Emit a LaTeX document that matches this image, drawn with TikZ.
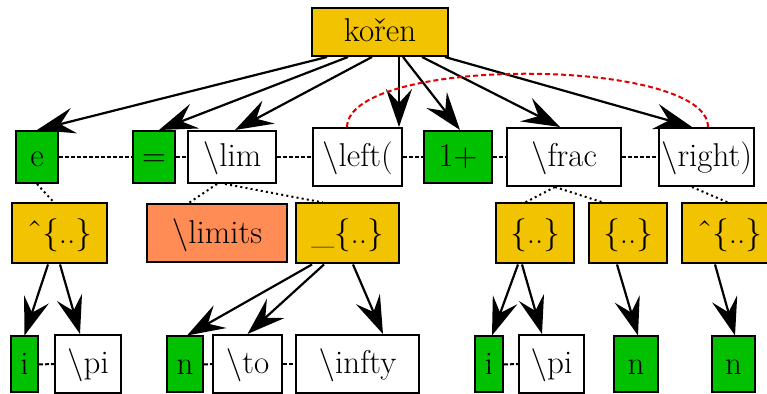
\documentclass[tikz,border=0pt]{standalone}
\usetikzlibrary{arrows.meta,calc}
\definecolor{gold}{HTML}{F2C300}
\definecolor{leaf}{HTML}{00C000}
\definecolor{salmon}{HTML}{FF8C55}
\definecolor{tiered}{HTML}{E00000}

\begin{document}
\begin{tikzpicture}[x=0.5pt,y=-0.5pt,
  box/.style={draw, line width=1pt, inner sep=0pt, text height=10pt, text depth=0pt,
              font=\fontsize{16.5}{20}\selectfont},
  arr/.style={-{Stealth[length=19pt,width=13pt,inset=7pt]}, line width=1.1pt},
  sib/.style={dash pattern=on 2pt off 1pt, line width=1pt},
  tree/.style={dash pattern=on 1pt off 1.6pt, line width=1pt},
  pair/.style={dash pattern=on 2.5pt off 1.5pt, line width=1pt, draw=tiered}]
\useasboundingbox (0,0) rectangle (767,394);

% root
\node[box, fill=gold, minimum width=68pt, minimum height=24pt] (koren) at (380,32) {kořen};

% first level
\node[box, fill=leaf,  minimum width=21pt,   minimum height=26pt] (e)     at (37,157)    {e};
\node[box, fill=leaf,  minimum width=21pt,   minimum height=26pt] (eq)    at (154,157)   {=};
\node[box, fill=white, minimum width=44pt,   minimum height=26pt] (lim)   at (232,157)   {\textbackslash lim};
\node[box, fill=white, minimum width=44.5pt, minimum height=29pt] (left)  at (357.5,157) {\textbackslash left(};
\node[box, fill=leaf,  minimum width=34pt,   minimum height=26pt] (one)   at (458,157)   {1+};
\node[box, fill=white, minimum width=57pt,   minimum height=29pt] (frac)  at (564,157)   {\textbackslash frac};
\node[box, fill=white, minimum width=47.5pt, minimum height=29pt] (right) at (706.5,157) {\textbackslash right)};

% second level
\node[box, fill=gold,   minimum width=47.5pt, minimum height=30pt] (sup1)   at (59.5,233.5)  {ˆ\{..\}};
\node[box, fill=salmon, minimum width=70pt,   minimum height=29pt] (limits) at (217,233.5)   {\textbackslash limits};
\node[box, fill=gold,   minimum width=51.5pt, minimum height=30pt] (sub)    at (347.5,233.5) {\_\{..\}};
\node[box, fill=gold,   minimum width=39pt,   minimum height=30pt] (arg1)   at (535,233.5)   {\{..\}};
\node[box, fill=gold,   minimum width=39pt,   minimum height=30pt] (arg2)   at (628,233.5)   {\{..\}};
\node[box, fill=gold,   minimum width=47.5pt, minimum height=30pt] (sup2)   at (729.5,233.5) {ˆ\{..\}};

% third level
\node[box, fill=leaf,  minimum width=13.5pt, minimum height=28pt] (i1)    at (24.5,364.5)  {i};
\node[box, fill=white, minimum width=33pt,   minimum height=29pt] (pi1)   at (88,364)      {\textbackslash pi};
\node[box, fill=leaf,  minimum width=18pt,   minimum height=28pt] (n1)    at (185,364.5)   {n};
\node[box, fill=white, minimum width=34.5pt, minimum height=29pt] (to)    at (247.5,364)   {\textbackslash to};
\node[box, fill=white, minimum width=61.5pt, minimum height=29pt] (infty) at (357.5,364)   {\textbackslash infty};
\node[box, fill=leaf,  minimum width=14pt,   minimum height=28pt] (i2)    at (489,364.5)   {i};
\node[box, fill=white, minimum width=32.5pt, minimum height=29pt] (pi2)   at (551.5,364)   {\textbackslash pi};
\node[box, fill=leaf,  minimum width=22pt,   minimum height=28pt] (n2)    at (636,364.5)   {n};
\node[box, fill=leaf,  minimum width=21.5pt, minimum height=28pt] (n3)    at (733.5,364.5) {n};

% sibling links
\draw[sib] (e.east) -- (eq.west);
\draw[sib] (eq.east) -- (lim.west);
\draw[sib] (lim.east) -- (left.west);
\draw[sib] (left.east) -- (one.west);
\draw[sib] (one.east) -- (frac.west);
\draw[sib] (frac.east) -- (right.west);
\draw[sib] (i1.east) -- (pi1.west);
\draw[sib] (n1.east) -- (to.west);
\draw[sib] (to.east) -- (infty.west);
\draw[sib] (i2.east) -- (pi2.west);

% attachments
\draw[tree] (e.south) -- ($(sup1.north)+(-5.5,0)$);
\draw[tree] ($(lim.south)+(-15,0)$) -- ($(limits.north)+(-29,0)$);
\draw[tree] ($(lim.south)+(-7,0)$) -- ($(sub.north)+(-24.5,0)$);
\draw[tree] ($(frac.south)+(-9,0)$) -- ($(arg1.north)+(-10,0)$);
\draw[tree] ($(frac.south)+(-9,0)$) -- ($(arg2.north)+(-25,0)$);
\draw[tree] ($(right.south)+(-14.5,0)$) -- ($(sup2.north)+(-1.5,0)$);

% root children
\draw[arr] ($(koren.south)+(-53,0)$) -- (e.north);
\draw[arr] ($(koren.south)+(-32,0)$) -- ($(eq.north)+(5,0)$);
\draw[arr] ($(koren.south)+(-8,0)$)  -- ($(lim.north)+(3,0)$);
\draw[arr] ($(koren.south)+(19,0)$)  -- ($(left.north)+(41.5,0)$);
\draw[arr] ($(koren.south)+(23,0)$)  -- ($(one.north)+(2,0)$);
\draw[arr] ($(koren.south)+(42,0)$)  -- ($(frac.north)+(-4,0)$);
\draw[arr] ($(koren.south)+(65,0)$)  -- ($(right.north)+(-14.5,0)$);

% matching delimiters
\draw[pair] ($(left.north)+(-10.5,0)$) .. controls +(2,-72) and +(0,-70) .. ($(right.north)+(1.5,0)$);

% second level children
\draw[arr] ($(sup1.south)+(-11.5,0)$) -- (i1.north);
\draw[arr] ($(sup1.south)+(0.5,0)$)   -- ($(pi1.north)+(-8,0)$);
\draw[arr] ($(sub.south)+(-35.5,0)$)  -- ($(n1.north)+(2,0)$);
\draw[arr] ($(sub.south)+(-23.5,0)$)  -- (to.north);
\draw[arr] ($(sub.south)+(5.5,0)$)    -- ($(infty.north)+(25.5,0)$);
\draw[arr] ($(arg1.south)+(-17,0)$)   -- ($(i2.north)+(3,0)$);
\draw[arr] ($(arg1.south)+(-13,0)$)   -- ($(pi2.north)+(-9.5,0)$);
\draw[arr] ($(arg2.south)+(-11,0)$)   -- ($(n2.north)+(2,0)$);
\draw[arr] ($(sup2.south)+(-14.5,0)$) -- ($(n3.north)+(1.5,0)$);
\end{tikzpicture}
\end{document}
